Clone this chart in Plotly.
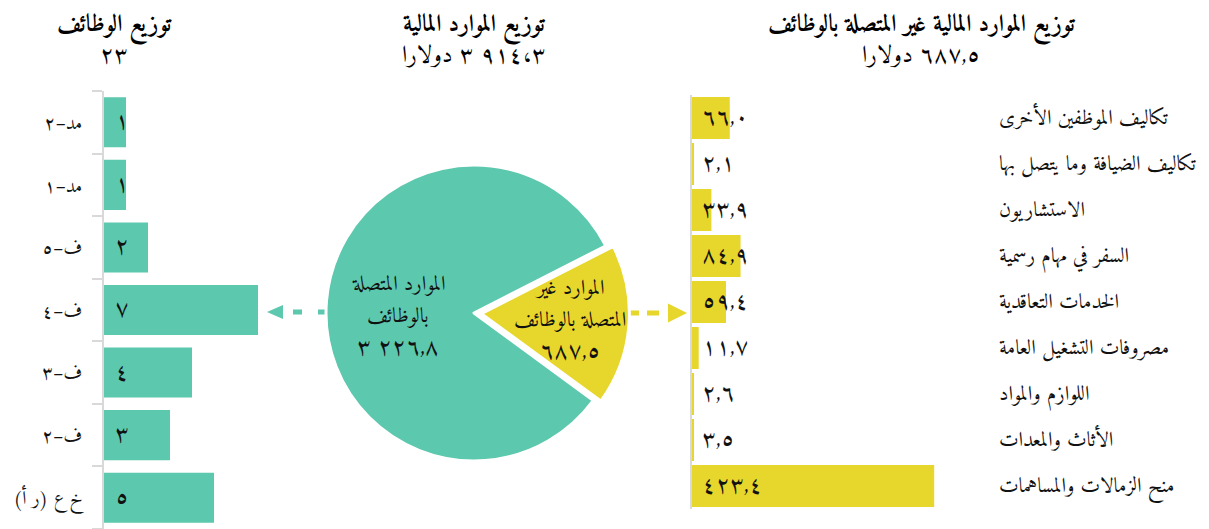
import plotly.graph_objects as go

W, H = 1209, 529

# ---------------- data ----------------
post_cats = ["مد–٢", "مد–١", "ف–٥", "ف–٤", "ف–٣", "ف–٢", "خ ع (ر أ)"]
post_vals = [1, 1, 2, 7, 4, 3, 5]

pie_labels = ["الموارد غير<br>المتصلة بالوظائف", "الموارد المتصلة<br>بالوظائف"]
pie_vals = [687.5, 3226.8]

nonpost_cats = [
    "تكاليف الموظفين الأخرى",
    "تكاليف الضيافة وما يتصل بها",
    "الاستشاريون",
    "السفر في مهام رسمية",
    "الخدمات التعاقدية",
    "مصروفات التشغيل العامة",
    "اللوازم والمواد",
    "الأثاث والمعدات",
    "منح الزمالات والمساهمات",
]
nonpost_vals = [66.0, 2.1, 33.9, 84.9, 59.4, 11.7, 2.6, 3.5, 423.4]

titles = ["توزيع الوظائف", "توزيع الموارد المالية", "توزيع الموارد المالية غير المتصلة بالوظائف"]
currency = "دولارا"

# ---------------- helpers ----------------
TEAL = "#5CC8AD"
YELLOW = "#E7D62B"
AXIS = "#D9D9D9"
FONT = "Amiri, Noto Naskh Arabic, DejaVu Sans"
TXT = "#111111"

AR = str.maketrans("0123456789", "٠١٢٣٤٥٦٧٨٩")
RLM = "\u200f"
OFF = 8  # page body margin


def ar_num(v, dec=1, sep=","):
    s = f"{v:,.{dec}f}"
    ip, _, fr = s.partition(".")
    ip = ip.replace(",", "\u00a0")
    return (ip + (sep + fr if dec else "")).translate(AR)


def rtl(s):
    return RLM + s + RLM


def px(x):
    return (x - OFF) / W


def py(y):
    return 1 - (y - OFF) / H


fig = go.Figure()

# ---------- left: posts ----------
fig.add_trace(go.Bar(
    x=post_vals, y=post_cats, orientation="h", width=0.8,
    marker=dict(color=TEAL, line=dict(width=0)),
    xaxis="x", yaxis="y", hoverinfo="skip", showlegend=False,
))

# ---------- middle: pie ----------
pie_cx, pie_cy, pie_r, pull = 474, 313, 148, 0.05
R = pie_r * (1 + pull)
fig.add_trace(go.Pie(
    values=pie_vals, labels=[l.replace("<br>", " ") for l in pie_labels],
    sort=False, direction="clockwise", rotation=63,
    pull=[pull, 0], marker=dict(colors=[YELLOW, TEAL], line=dict(color="white", width=3)),
    textinfo="none", hoverinfo="skip", showlegend=False,
    domain=dict(x=[px(pie_cx - R), px(pie_cx + R)], y=[py(pie_cy + R), py(pie_cy - R)]),
))

# ---------- right: non-post ----------
fig.add_trace(go.Bar(
    x=nonpost_vals, y=nonpost_cats, orientation="h", width=0.913,
    marker=dict(color=YELLOW, line=dict(width=0)),
    xaxis="x2", yaxis="y2", hoverinfo="skip", showlegend=False,
))

annotations = []
# bar value labels (left)
for c, v in zip(post_cats, post_vals):
    annotations.append(dict(x=0, y=c, xref="x", yref="y", xanchor="center", xshift=18,
                            text=ar_num(v, 0), showarrow=False,
                            font=dict(family=FONT, size=24, color=TXT)))
# right value + category labels
for c, v in zip(nonpost_cats, nonpost_vals):
    annotations.append(dict(x=0, y=c, xref="x2", yref="y2", xanchor="left", xshift=8,
                            text=ar_num(v, 1), showarrow=False,
                            font=dict(family=FONT, size=24, color=TXT)))
    annotations.append(dict(x=px(997), y=c, xref="paper", yref="y2", xanchor="left",
                            text=rtl(c), showarrow=False,
                            font=dict(family=FONT, size=21, color=TXT)))

# titles (title + subtitle in one block)
title_x = [115, 474, 922]
subtitles = [
    ar_num(sum(post_vals), 0),
    ar_num(sum(pie_vals), 1, "،") + " " + currency,
    ar_num(sum(nonpost_vals), 1) + " " + currency,
]
for tx, t, st in zip(title_x, titles, subtitles):
    annotations.append(dict(x=px(tx), y=py(40), xref="paper", yref="paper",
                            text="<b>" + t + "</b><br>" + st,
                            showarrow=False, xanchor="center", yanchor="middle", align="center",
                            font=dict(family=FONT, size=24, color="#000000")))

# pie labels
pie_label_pos = [(570, 320), (398, 316)]
for (lx, ly), lab, v in zip(pie_label_pos, pie_labels, pie_vals):
    lines = lab.split("<br>") + [ar_num(v, 1)]
    for i, ln in enumerate(lines):
        annotations.append(dict(x=px(lx), y=py(ly + (i - 1) * 32), xref="paper", yref="paper",
                                text=ln, showarrow=False, xanchor="center", yanchor="middle",
                                font=dict(family=FONT, size=24 if i == 2 else 21, color=TXT)))

# arrows (dashed connectors)
arrow_y = py(312)
shapes = [
    dict(type="line", xref="paper", yref="paper", x0=px(327), x1=px(289), y0=arrow_y, y1=arrow_y,
         line=dict(color=TEAL, width=5, dash="9px,16px"), layer="below"),
    dict(type="path", xref="paper", yref="paper",
         path=f"M {px(267)} {arrow_y} L {px(283)} {py(305)} L {px(283)} {py(319)} Z",
         fillcolor=TEAL, line=dict(width=0)),
    dict(type="line", xref="paper", yref="paper", x0=px(627), x1=px(660), y0=py(313), y1=py(313),
         line=dict(color=YELLOW, width=5, dash="12px,8px"), layer="below"),
    dict(type="path", xref="paper", yref="paper",
         path=f"M {px(687)} {py(313)} L {px(668)} {py(303.5)} L {px(668)} {py(322.5)} Z",
         fillcolor=YELLOW, line=dict(width=0)),
]

fig.update_layout(
    width=W, height=H, margin=dict(l=0, r=0, t=0, b=0, autoexpand=False),
    paper_bgcolor="white", plot_bgcolor="white",
    font=dict(family=FONT, color=TXT),
    xaxis=dict(domain=[px(104), px(370)], range=[0, (370 - 104) / 22], visible=False,
               fixedrange=True, automargin=False),
    yaxis=dict(domain=[py(529), py(91)], type="category", autorange="reversed", automargin=False,
               showline=True, linecolor=AXIS, linewidth=2, showgrid=False, zeroline=False,
               ticks="outside", tickson="boundaries", ticklen=10, tickwidth=2, tickcolor=AXIS,
               tickmode="array", tickvals=post_cats, ticktext=[rtl(c) for c in post_cats],
               tickfont=dict(family=FONT, size=19, color=TXT), ticklabelstandoff=16, anchor="x"),
    xaxis2=dict(domain=[px(692), px(980)], range=[0, 288 / 0.572], visible=False,
                fixedrange=True, automargin=False),
    yaxis2=dict(domain=[py(509), py(95)], type="category", autorange="reversed", automargin=False,
                showline=True, linecolor=AXIS, linewidth=2, showgrid=False, zeroline=False,
                showticklabels=False, ticks="", anchor="x2"),
    annotations=annotations,
    shapes=shapes,
)

fig.write_html("out.html")
